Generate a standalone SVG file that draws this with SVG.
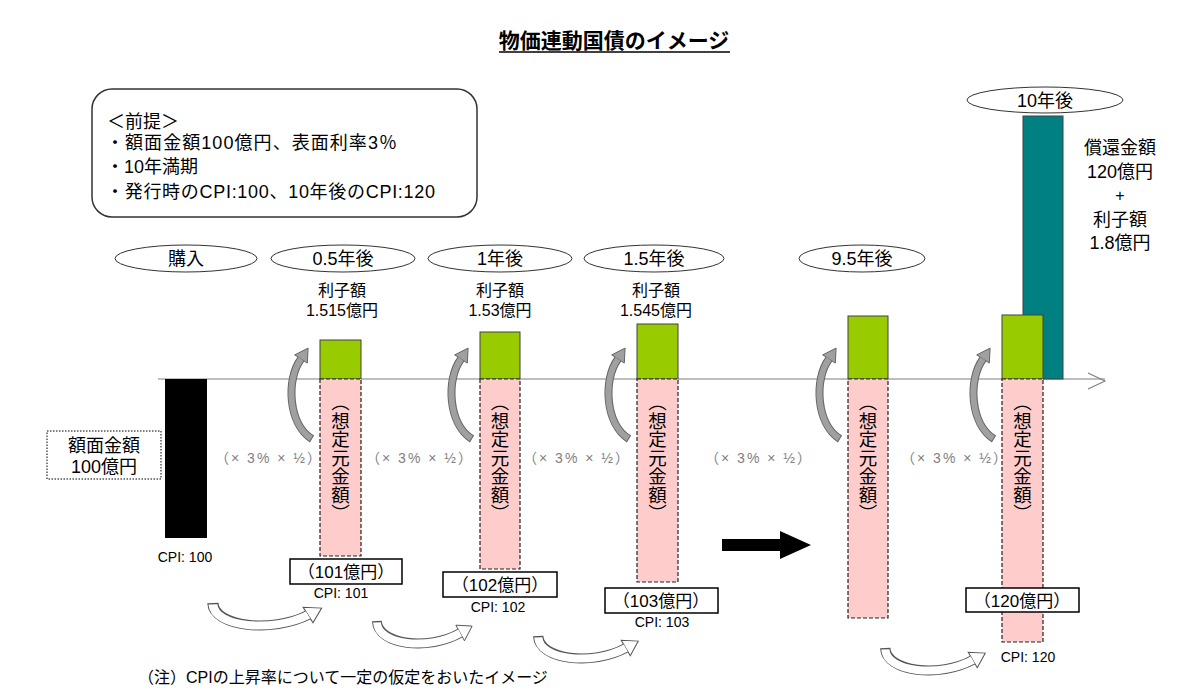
<svg xmlns="http://www.w3.org/2000/svg" width="1200" height="698" viewBox="0 0 1200 698">
<style>
 text { font-family: 'Liberation Sans','Noto Sans CJK JP',sans-serif; fill:#000; }
 .c { text-anchor: middle; }
 .t18 { font-size:18px; }
 .t17 { font-size:17px; }
 .t16 { font-size:16px; }
 .cpi { font-size:14px; text-anchor:middle; }
 .rate { font-size:14px; fill:#808080; text-anchor:middle; letter-spacing:2px; }
 .ell { fill:#fff; stroke:#333; stroke-width:1; }
 .green { fill:#99CC00; stroke:#404040; stroke-width:1; }
 .pink { fill:#FFCCCC; stroke:#222; stroke-width:1.2; stroke-dasharray:4 2; }
 .amt { fill:#fff; stroke:#000; stroke-width:1.5; }
 .vt { font-family:'Noto Sans CJK JP',sans-serif; font-size:18.5px; writing-mode:vertical-rl; text-orientation:upright; }
</style>
<defs>
 <g id="garrow">
  <path d="M-8,60 C-32,45 -34,0 -19,-20" fill="none" stroke="#666" stroke-width="8"/>
  <polygon points="-11.9,-30.9 -12.7,-15.9 -25.3,-24.1" fill="#a0a0a0" stroke="#666" stroke-width="1"/>
  <path d="M-8.8,59.4 C-32,45 -34,0 -19,-20" fill="none" stroke="#a0a0a0" stroke-width="6"/>
 </g>
 <g id="warrow">
  <path d="M7,2 C8,26 60,32 92,14" fill="none" stroke="#555" stroke-width="10"/>
  <polygon points="104.2,7.1 96.4,21.8 87.6,6.2" fill="#fff" stroke="#555" stroke-width="1"/>
  <path d="M7.1,3.3 C8,26 60,32 92,14" fill="none" stroke="#fff" stroke-width="8"/>
 </g>
</defs>
<rect width="1200" height="698" fill="#fff"/>

<g id="title">
 <text x="614" y="48" class="c" style="font-size:21px;font-weight:bold;">物価連動国債のイメージ</text>
 <line x1="499" y1="52" x2="730" y2="52" stroke="#000" stroke-width="1.5"/>
</g>

<g id="premise">
 <rect x="92" y="89" width="385" height="128" rx="20" fill="#fff" stroke="#333" stroke-width="1.5"/>
 <text x="107" y="128" class="t18">＜前提＞</text>
 <text x="106" y="149" class="t18" textLength="291" lengthAdjust="spacing">・額面金額100億円、表面利率3％</text>
 <text x="106" y="173" class="t18">・10年満期</text>
 <text x="106" y="198" class="t18" textLength="329" lengthAdjust="spacing">・発行時のCPI:100、10年後のCPI:120</text>
</g>

<g id="labels-time">
 <g id="t-purchase"><ellipse cx="186" cy="258.5" rx="71" ry="13.5" class="ell"/><text x="186" y="265" class="c t18">購入</text></g>
 <g id="t-05"><ellipse cx="343" cy="258.5" rx="72" ry="13.5" class="ell"/><text x="343" y="265" class="c t18">0.5年後</text></g>
 <g id="t-1"><ellipse cx="500" cy="258.5" rx="72" ry="13.5" class="ell"/><text x="500" y="265" class="c t18">1年後</text></g>
 <g id="t-15"><ellipse cx="654" cy="258.5" rx="70" ry="13.5" class="ell"/><text x="654" y="265" class="c t18">1.5年後</text></g>
 <g id="t-95"><ellipse cx="862" cy="258.5" rx="63" ry="13.5" class="ell"/><text x="862" y="265" class="c t18">9.5年後</text></g>
 <g id="t-10"><ellipse cx="1045" cy="100" rx="78" ry="13" class="ell"/><text x="1045" y="106.5" class="c t18">10年後</text></g>
</g>

<g id="connectors">
 <line x1="158" y1="379" x2="1105" y2="379" stroke="#808080" stroke-width="1.2"/>
 <polyline points="1088,373 1105,381 1088,389" fill="none" stroke="#808080" stroke-width="1.2"/>
 <use href="#garrow" transform="translate(320,379)"/>
 <use href="#garrow" transform="translate(480,379)"/>
 <use href="#garrow" transform="translate(637,379)"/>
 <use href="#garrow" transform="translate(848,379)"/>
 <use href="#garrow" transform="translate(1002,379)"/>
 <use href="#warrow" transform="translate(205,601) scale(1.12,1)"/>
 <use href="#warrow" transform="translate(370,619) scale(0.98,1)"/>
 <use href="#warrow" transform="translate(531,634) scale(1.03,1)"/>
 <use href="#warrow" transform="translate(878,646) scale(1.03,1)"/>
 <polygon points="722,539 780,539 780,531 811,545 780,559 780,551 722,551" fill="#000"/>
</g>

<g id="purchase">
 <rect x="165" y="379" width="42" height="159" fill="#000"/>
 <rect x="47" y="431" width="114" height="48" fill="#fff" stroke="#000" stroke-width="1" stroke-dasharray="1.5 1.5"/>
 <text x="104" y="452" class="c t18">額面金額</text>
 <text x="104" y="473" class="c t18">100億円</text>
 <text x="185" y="562" class="cpi">CPI: 100</text>
</g>

<g id="bar-05">
 <rect x="320" y="340" width="41" height="39" class="green"/>
 <rect x="320" y="379" width="41" height="177" class="pink"/>
 <text x="340.5" y="393" class="vt">（想定元金額）</text>
 <text x="342" y="296" class="c t16">利子額</text>
 <text x="342" y="316" class="c t16">1.515億円</text>
 <rect x="290" y="559" width="112" height="25" class="amt"/>
 <text x="346" y="578" class="c t17">（101億円）</text>
 <text x="341" y="598" class="cpi">CPI: 101</text>
</g>

<g id="bar-1">
 <rect x="480" y="332" width="40" height="47" class="green"/>
 <rect x="480" y="379" width="40" height="190" class="pink"/>
 <text x="500" y="393" class="vt">（想定元金額）</text>
 <text x="500" y="296" class="c t16">利子額</text>
 <text x="500" y="316" class="c t16">1.53億円</text>
 <rect x="443" y="572" width="114" height="25" class="amt"/>
 <text x="500" y="591" class="c t17">（102億円）</text>
 <text x="498" y="612" class="cpi">CPI: 102</text>
</g>

<g id="bar-15">
 <rect x="637" y="324" width="41" height="55" class="green"/>
 <rect x="637" y="379" width="41" height="203" class="pink"/>
 <text x="657.5" y="393" class="vt">（想定元金額）</text>
 <text x="656" y="296" class="c t16">利子額</text>
 <text x="656" y="316" class="c t16">1.545億円</text>
 <rect x="605" y="588" width="113" height="25" class="amt"/>
 <text x="661" y="607" class="c t17">（103億円）</text>
 <text x="662" y="627" class="cpi">CPI: 103</text>
</g>

<g id="bar-95">
 <rect x="848" y="316" width="40" height="63" class="green"/>
 <rect x="848" y="379" width="40" height="239" class="pink"/>
 <text x="868" y="393" class="vt">（想定元金額）</text>
</g>

<g id="bar-10">
 <rect x="1023" y="116" width="40" height="263" fill="#008080" stroke="#404040" stroke-width="1"/>
 <rect x="1002" y="315" width="41" height="64" class="green"/>
 <rect x="1002" y="379" width="41" height="263" class="pink"/>
 <text x="1022.5" y="393" class="vt">（想定元金額）</text>
 <rect x="966" y="588" width="113" height="24" class="amt"/>
 <text x="1022" y="607" class="c t17">（120億円）</text>
 <text x="1028" y="662" class="cpi">CPI: 120</text>
 <text x="1120" y="154" class="c t18">償還金額</text>
 <text x="1120" y="178" class="c t18">120億円</text>
 <text x="1120" y="201" class="c t16">+</text>
 <text x="1120" y="226" class="c t18">利子額</text>
 <text x="1120" y="249" class="c t18">1.8億円</text>
</g>

<g id="rates">
 <text x="269" y="463" class="rate">（× 3% × ½）</text>
 <text x="420" y="463" class="rate">（× 3% × ½）</text>
 <text x="577" y="463" class="rate">（× 3% × ½）</text>
 <text x="759" y="463" class="rate">（× 3% × ½）</text>
 <text x="955" y="463" class="rate">（× 3% × ½）</text>
</g>

<g id="note">
 <text x="138" y="683" class="t16">（注）CPIの上昇率について一定の仮定をおいたイメージ</text>
</g>
</svg>
